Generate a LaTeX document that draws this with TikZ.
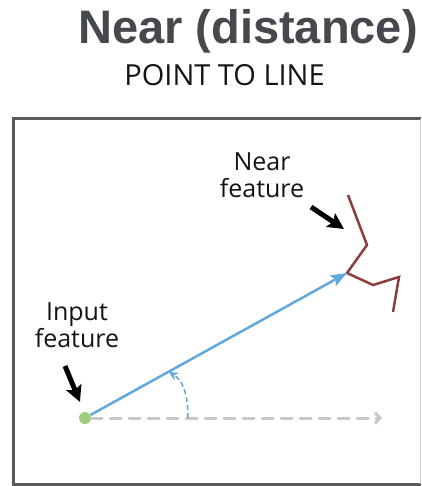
\documentclass[tikz,border=0pt]{standalone}
\usepackage{fontspec}
\setmainfont{Open Sans}
\newfontfamily\headfont{Liberation Sans}
\usepackage{tikz}
\usetikzlibrary{arrows.meta, positioning}
\definecolor{headgray}{RGB}{69, 73, 78}
\definecolor{inkblack}{RGB}{20, 20, 20}
\definecolor{framegray}{RGB}{90, 90, 90}
\definecolor{distblue}{RGB}{98, 168, 221}
\definecolor{featred}{RGB}{140, 62, 62}
\definecolor{pointgreen}{RGB}{155, 205, 125}
\definecolor{dashgray}{RGB}{200, 200, 200}

\begin{document}
\begin{tikzpicture}[
    x=1pt, y=-1pt,
    heading/.style={anchor=base, inner sep=0pt, text=headgray,
                    font=\headfont\bfseries\fontsize{47}{50}\selectfont},
    subheading/.style={anchor=base, inner sep=0pt, text=inkblack,
                       font=\fontsize{29}{32}\selectfont},
    lbl/.style={anchor=north, inner sep=0pt, align=center, text=inkblack,
                font=\fontsize{25}{27}\selectfont},
    frame/.style={draw=framegray, line width=3pt},
    pointer/.style={-{Stealth[length=16pt, width=16pt, inset=3pt]},
                    line width=5pt, black},
    dist/.style={-{Stealth[length=16pt, width=12pt, inset=3pt]},
                 line width=2.5pt, distblue},
    axis/.style={-{Straight Barb[length=5pt, width=11pt]}, line width=3pt,
                 dashgray, dash pattern=on 11pt off 8pt, line cap=round},
    angarc/.style={-{Stealth[length=9pt, width=9pt]}, line width=1.5pt,
                   distblue, dash pattern=on 5pt off 3pt},
    feat/.style={draw=featred, line width=2.5pt, line join=miter},
    inpoint/.style={circle, fill=pointgreen, minimum size=12pt, inner sep=0pt}
]
\useasboundingbox (0,0) rectangle (421,486);

\node[heading] (title) at (248,44) {Near (distance)};
\node[subheading] (subtitle) at (224.5,86) {POINT TO LINE};

% map frame
\draw[frame] (421,119) -- (13,119) -- (13,484) -- (421,484);
\draw[dashgray, line width=1pt] (420,119) -- (420,484);

% line feature
\coordinate (nearpt) at (347,273);
\draw[feat] (348,195) -- (367,245) -- (nearpt) -- (373,285) -- (399,277) -- (393,312);

% input point and direction
\node[inpoint] (inpt) at (85,418) {};
\coordinate (dirend) at (382,418);
\coordinate (arcstart) at (188,418);
\coordinate (arcend) at (169,372);
\draw[axis] (inpt) -- (dirend);
\draw[dist] (inpt) -- (nearpt);
\draw[angarc] (arcstart) .. controls (188,392) and (182,380) .. (arcend);

% labels
\node[lbl] (nearlbl) at (262,152) {Near\\feature};
\node[lbl] (inlbl) at (77,302) {Input\\feature};
\coordinate (nearfrom) at (311,207);
\coordinate (nearto) at (344,229);
\coordinate (infrom) at (65,366);
\coordinate (into) at (80,402);
\draw[pointer] (nearfrom) -- (nearto);
\draw[pointer] (infrom) -- (into);

\end{tikzpicture}
\end{document}
